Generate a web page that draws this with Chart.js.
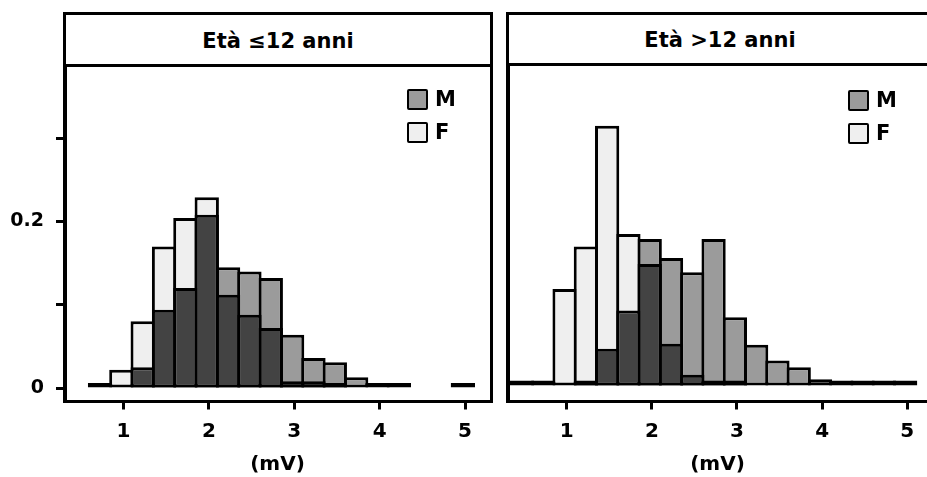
<!DOCTYPE html>
<html>
<head>
<meta charset="utf-8">
<script src="https://cdn.jsdelivr.net/npm/chart.js@4.4.0/dist/chart.umd.min.js"></script>
<style>
  html, body { margin: 0; padding: 0; background: #fff; }
  body { position: relative; width: 927px; height: 477px; overflow: hidden; font-family: 'DejaVu Sans', sans-serif; }
  .panel { position: absolute; top: 12px; height: 391px; border: 3px solid #000; box-sizing: border-box; }
  .head { border-bottom: 3px solid #000; box-sizing: border-box; display: flex; align-items: center; justify-content: center;
          font-weight: bold; font-size: 21px; padding-top: 2px; }
  canvas { position: absolute; top: 0; z-index: 2; }
  .leg { position: absolute; display: flex; align-items: center; font-weight: bold; font-size: 21px; z-index: 3; }
  .sw { width: 21px; height: 21px; border: 2.5px solid #000; box-sizing: border-box; border-radius: 2px; margin-right: 7px; }
</style>
</head>
<body>
<div class="panel" style="left:63px;width:430px"><div class="head" style="height:52px">Età ≤12 anni</div></div>
<div class="panel" style="left:506px;width:428px"><div class="head" style="height:51px">Età &gt;12 anni</div></div>
<canvas id="left" width="500" height="477" style="left:0"></canvas>
<canvas id="right" width="427" height="477" style="left:500px"></canvas>
<div class="leg" style="left:407px;top:87px"><div class="sw" style="background:#9b9b9b"></div>M</div>
<div class="leg" style="left:407px;top:120px"><div class="sw" style="background:#efefef"></div>F</div>
<div class="leg" style="left:848px;top:88px"><div class="sw" style="background:#9b9b9b"></div>M</div>
<div class="leg" style="left:848px;top:121px"><div class="sw" style="background:#efefef"></div>F</div>
<script>
// bin centres (mV), bin width 0.25
const binCenters = [0.475, 0.725, 0.975, 1.225, 1.475, 1.725, 1.975, 2.225, 2.475, 2.725,
                    2.975, 3.225, 3.475, 3.725, 3.975, 4.225, 4.475, 4.725, 4.975];

// Età <=12 anni
const youngM = [null, null, null, 0.025, 0.094, 0.120, 0.208, 0.145, 0.140, 0.132,
                0.064, 0.036, 0.031, 0.013, 0.003, 0.002, null, null, 0.002];
const youngF = [null, 0.002, 0.022, 0.080, 0.170, 0.204, 0.229, 0.112, 0.088, 0.072,
                0.008, 0.008, 0.006, null, null, null, null, null, null];

// Età >12 anni
const olderM = [0.002, 0.005, null, 0.006, 0.044, 0.090, 0.176, 0.153, 0.136, 0.176,
                0.082, 0.049, 0.030, 0.022, 0.0075, 0.002, 0.0055, 0.002, 0.002];
const olderF = [null, null, 0.116, 0.167, 0.312, 0.182, 0.146, 0.050, 0.013, 0.006,
                0.004, null, null, null, null, null, null, null, null];

const xTicks = [1, 2, 3, 4, 5];
const yTicks = [0, 0.1, 0.2, 0.3];
const yTickLabels = ['0', '', '0.2', ''];

const colM = '#9b9b9b';
const colF = '#efefef';
const colBoth = '#434343';
const font = { family: "'DejaVu Sans'", weight: 'bold', size: 19 };
const xFont = { family: "'DejaVu Sans'", weight: 'bold', size: 20 };

// overlapping histograms: overlap dark, rest coloured by the taller group
function buildDatasets(m, f) {
  const overlap = binCenters.map((x, i) => ({ x, y: (m[i] == null || f[i] == null) ? null : Math.min(m[i], f[i]) }));
  const tall = binCenters.map((x, i) => {
    if (m[i] == null && f[i] == null) return { x, y: null };
    return { x, y: Math.max(m[i] ?? 0, f[i] ?? 0) };
  });
  const tallColors = binCenters.map((x, i) => ((m[i] ?? 0) >= (f[i] ?? 0) ? colM : colF));
  const common = { borderColor: '#000', borderWidth: 3, grouped: false, minBarLength: 5,
                   barPercentage: 1.14, categoryPercentage: 1.0, borderSkipped: false };
  return [
    Object.assign({ label: 'M+F', data: overlap, backgroundColor: colBoth }, common),
    Object.assign({ label: 'top', data: tall, backgroundColor: tallColors }, common)
  ];
}

function makeChart(id, m, f, cfg) {
  new Chart(document.getElementById(id), {
    type: 'bar',
    data: { datasets: buildDatasets(m, f) },
    options: {
      responsive: false,
      animation: false,
      events: [],
      layout: { padding: { top: cfg.top, right: cfg.right, left: 0, bottom: 0 } },
      plugins: { legend: { display: false }, tooltip: { enabled: false } },
      scales: {
        x: {
          type: 'linear',
          offset: false,
          min: cfg.xMin, max: cfg.xMax,
          afterBuildTicks: (s) => { s.ticks = xTicks.map(v => ({ value: v })); },
          afterFit: (s) => { s.height = 75.5; },
          ticks: { color: '#000', font: xFont, padding: 10, autoSkip: false, callback: (v) => String(v) },
          grid: { offset: false, drawOnChartArea: false, tickLength: 8, tickWidth: 3, tickColor: '#000' },
          border: { display: true, width: 3, color: '#000' },
          title: { display: true, text: '(mV)', color: '#000', font: xFont, padding: { top: 0, bottom: 0 } }
        },
        y: {
          min: cfg.yMin, max: cfg.yMax,
          afterBuildTicks: (s) => { s.ticks = yTicks.map(v => ({ value: v })); },
          afterFit: (s) => { s.width = cfg.yWidth; },
          ticks: { display: cfg.showY, color: '#000', font, padding: 12,
                   callback: (v, i) => yTickLabels[i] },
          grid: { display: cfg.showY, drawOnChartArea: false, tickLength: 9, tickWidth: 3, tickColor: '#000' },
          border: { display: true, width: 3, color: '#000' }
        }
      }
    }
  });
}

makeChart('left', youngM, youngF, {
  top: 67, right: 10, yWidth: 65, showY: true,
  xMin: 0.3148, xMax: 5.2928, yMin: -0.0162, yMax: 0.3854
});
makeChart('right', olderM, olderF, {
  top: 66, right: 0, yWidth: 8, showY: false,
  xMin: 0.3106, xMax: 5.2314, yMin: -0.0192, yMax: 0.3836
});
</script>
</body>
</html>
